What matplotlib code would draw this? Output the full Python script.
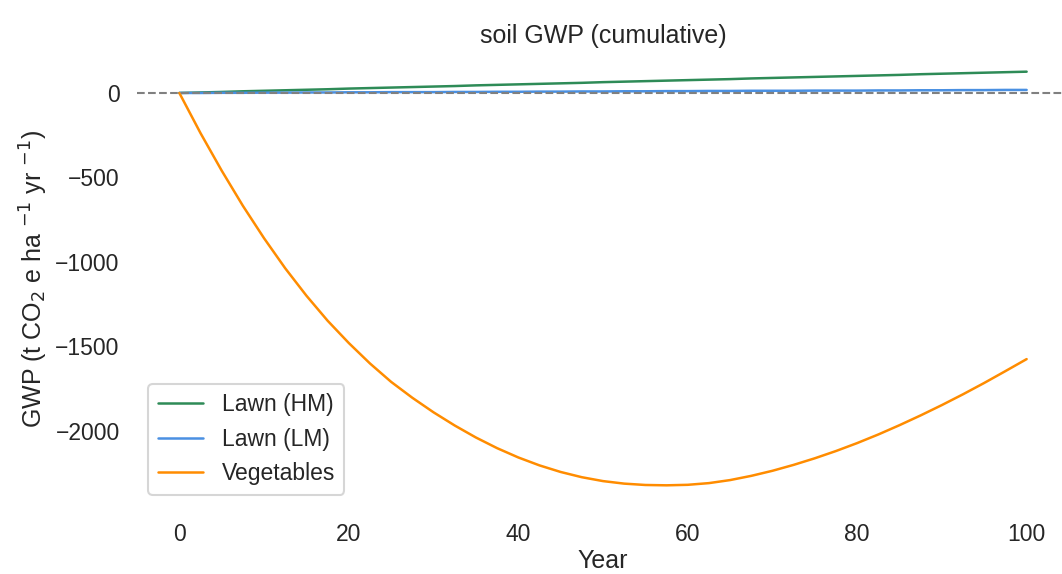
import matplotlib
matplotlib.use('Agg')
import matplotlib.pyplot as plt
import seaborn as sns

# cumulative soil GWP per land use, every 2.5 years
years = [0, 2.5, 5, 7.5, 10, 12.5, 15, 17.5, 20, 22.5, 25, 27.5, 30, 32.5, 35, 37.5, 40,
         42.5, 45, 47.5, 50, 52.5, 55, 57.5, 60, 62.5, 65, 67.5, 70, 72.5, 75, 77.5, 80,
         82.5, 85, 87.5, 90, 92.5, 95, 97.5, 100]
lawn_hm = [0, 3, 6, 10, 13, 16, 19, 22, 26, 29, 32, 35, 38, 41, 45, 48, 51,
           54, 57, 60, 64, 67, 70, 73, 76, 79, 82, 86, 89, 92, 95, 98, 101,
           104, 107, 111, 114, 117, 120, 123, 126]
lawn_lm = [0, 0, 1, 1, 2, 2, 3, 3, 4, 4, 5, 5, 5, 6, 6, 7, 7,
           8, 8, 9, 9, 10, 10, 11, 11, 12, 12, 13, 13, 13, 14, 14, 14,
           15, 15, 16, 16, 17, 17, 18, 18]
vegetables = [0, -238, -460, -668, -860, -1038, -1200, -1348, -1480, -1601, -1710,
              -1804, -1890, -1968, -2039, -2102, -2157, -2204, -2243, -2274, -2297,
              -2312, -2320, -2322, -2319, -2309, -2291, -2266, -2236, -2201, -2162,
              -2119, -2072, -2021, -1966, -1908, -1847, -1783, -1716, -1646, -1575]

sns.set_theme(style='white', context='talk')
plt.rcParams['font.family'] = ['Liberation Sans', 'DejaVu Sans']

fig = plt.figure(figsize=(10.62, 5.74), dpi=100)
ax = fig.add_axes([137 / 1062, (574 - 506) / 574, (1069 - 137) / 1062, (506 - 51) / 574])

ax.plot(years, lawn_hm, color='seagreen', lw=1.8, label='Lawn (HM)')
ax.plot(years, lawn_lm, color='#4a90e2', lw=1.8, label='Lawn (LM)')
ax.plot(years, vegetables, color='darkorange', lw=1.8, label='Vegetables')
ax.axhline(0, color='gray', ls='--', lw=1.5)

sns.despine(left=True, bottom=True)
ax.set_title('soil GWP (cumulative)', fontsize=18)
ax.set_xlabel('Year', labelpad=2)
ax.set_ylabel('GWP (t CO$_2$ e ha $^{-1}$ yr $^{-1}$)')
ax.legend(loc='lower left')

plt.savefig('out.png', dpi=100)
